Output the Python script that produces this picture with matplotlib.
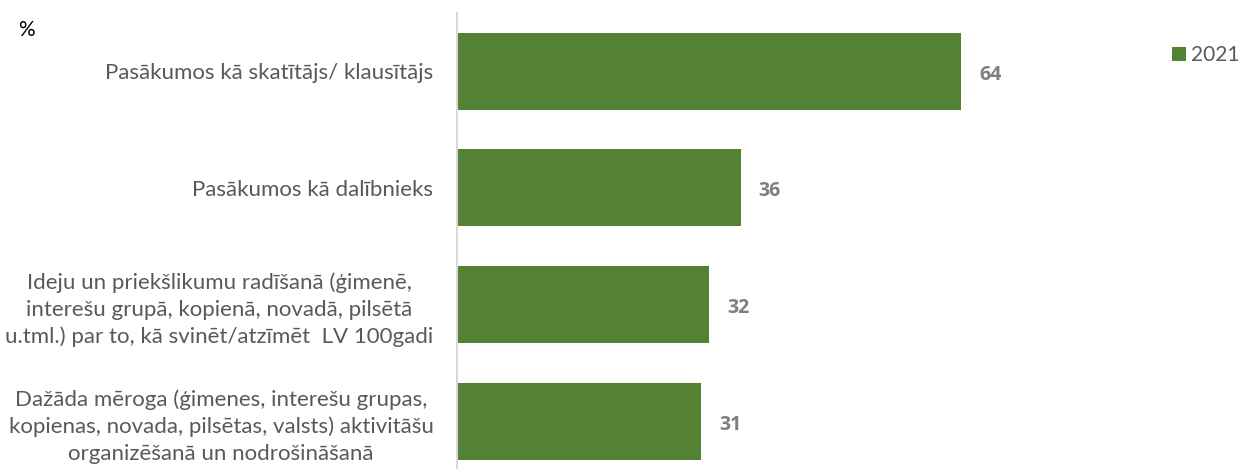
import matplotlib
matplotlib.use("Agg")
import matplotlib.pyplot as plt

categories = [
    "Pasākumos kā skatītājs/ klausītājs",
    "Pasākumos kā dalībnieks",
    "Ideju un priekšlikumu radīšanā (ģimenē,\ninterešu grupā, kopienā, novadā, pilsētā\nu.tml.) par to, kā svinēt/atzīmēt  LV 100gadi",
    "Dažāda mēroga (ģimenes, interešu grupas,\nkopienas, novada, pilsētas, valsts) aktivitāšu\norganizēšanā un nodrošināšanā",
]
values_2021 = [64, 36, 32, 31]
series_name = "2021"

plt.rcParams['font.family'] = ['Lato', 'DejaVu Sans']

W, H = 1246, 471
fig = plt.figure(figsize=(W/100, H/100), dpi=100)
ax = fig.add_axes([457/W, (H-468)/H, (1150-457)/W, (468-13)/H])

green = "#548235"
ypos = list(range(len(categories)))
bars = ax.barh(ypos, values_2021, height=0.66, color=green, label=series_name)
ax.set_xlim(0, 88)
ax.set_ylim(3.40, -0.5)

for y, v in zip(ypos, values_2021):
    ax.annotate(str(v), (v, y), xytext=(13, -2.5), textcoords="offset points",
                ha="left", va="center", fontsize=14, fontweight="bold",
                family=["Open Sans", "DejaVu Sans"], color="#7f7f7f")

ax.set_yticks(ypos)
ax.set_yticklabels(categories, fontsize=16, color="#595959", multialignment="center",
                   linespacing=1.4)
ax.tick_params(axis="y", length=0, pad=17)
ax.set_xticks([])
for s in ["top", "right", "bottom"]:
    ax.spines[s].set_visible(False)
ax.spines["left"].set_color("#d9d9d9")
ax.spines["left"].set_linewidth(1.5)

fig.text(18/W, 1 - 30/H, "%", fontsize=15, color="black", va="center", ha="left")

leg = fig.legend(handles=[bars], labels=[series_name], loc="center right",
                 bbox_to_anchor=(1250/W, 1 - 55/H), frameon=False, fontsize=15,
                 handlelength=0.65, handleheight=0.65, handletextpad=0.25, borderpad=0)
for t in leg.get_texts():
    t.set_color("#595959")

fig.savefig("out.png", dpi=100, facecolor="white")
